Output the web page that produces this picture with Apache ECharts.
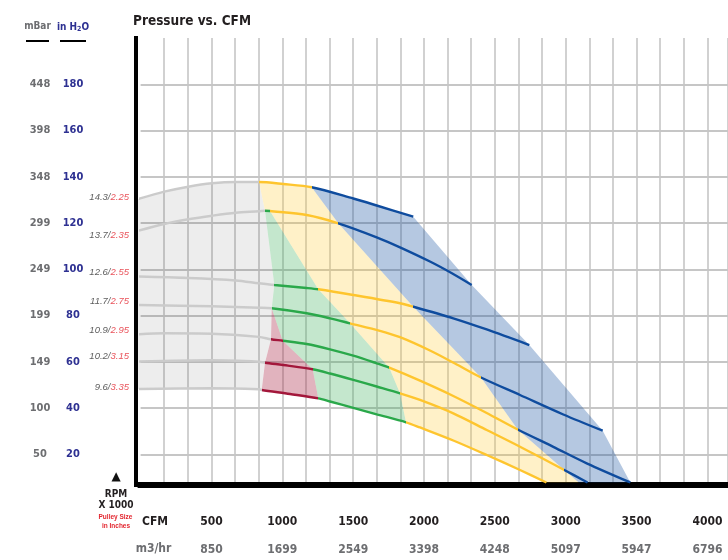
<!DOCTYPE html>
<html><head><meta charset="utf-8">
<script src="https://cdn.jsdelivr.net/npm/echarts@6/dist/echarts.min.js"></script>
<style>html,body{margin:0;padding:0;background:#fff}#c{width:728px;height:560px}</style>
</head><body><div id="c"></div>
<script>
// ---------- DATA (x = CFM, y = in H2O) ----------
const cfmTicks   = [500, 1000, 1500, 2000, 2500, 3000, 3500, 4000];
const m3hrTicks  = [850, 1699, 2549, 3398, 4248, 5097, 5947, 6796];
const inH2OTicks = [20, 40, 60, 80, 100, 120, 140, 160, 180];
const mbarTicks  = [50, 100, 149, 199, 249, 299, 348, 398, 448];
const rpmLabels    = ['14.3', '13.7', '12.6', '11.7', '10.9', '10.2', '9.6'];
const pulleyLabels = ['2.25', '2.35', '2.55', '2.75', '2.95', '3.15', '3.35'];

// fan curves, one per RPM
const curve143 = [[-22,130.25],[167,133.54],[337,135.7],[504,137.17],[671,137.73],[835.5,137.73],[1007,136.86],
                  [1207.4,135.44],[1501,130.59],[1666,127.57],[1924,122.72]];
const curve137 = [[-22,116.54],[167,119.57],[337,121.6],[504,123.16],[671,124.45],[835.5,125.06],[877.9,125.32],
                  [913.2,125.19],[1172,123.46],[1395.2,119.87],[1666,113.82],[1830.6,109.49],[2042,103.35],[2200,98.16],[2336.6,93.19]];
const curve126 = [[-22,96.86],[337,96.22],[671,95.14],[835.5,93.92],[943.5,93.19],[1172,91.89],[1254,91.33],
                  [1501,88.86],[1830.6,85.28],[1924.4,83.81],[2206.7,78.79],[2442.5,73.95],[2743,67.24]];
const curve117 = [[-22,84.54],[504,83.98],[835.5,83.37],[925.2,83.11],[1172,80.95],[1336.6,78.79],[1477.7,76.63],
                  [1689.4,73.38],[1830.6,70.62],[2042,64.86],[2218.7,59.24],[2402.2,53.19],[2677.4,45.62],[2983,37.19],[3261,30.18]];
const curve109 = [[-22,71.87],[167,72.3],[504,72.13],[835.5,70.75],[920.2,69.71],[1002.8,69.1],[1172,67.68],[1336.6,65.38],
                  [1501,62.62],[1666,59.33],[1755,57.43],[1971.7,51.81],[2206.7,45.19],[2442.5,37.84],[2661.2,30.7],
                  [2912.4,23.22],[3148,16.09],[3456,7.8]];
const curve102 = [[-22,60.11],[504,60.63],[835.5,60.02],[877.9,59.59],[1040,58.34],[1214.5,56.74],[1336.6,54.92],
                  [1501,52.19],[1666,49.3],[1830.6,46.36],[1971.7,43.5],[2206.7,37.71],[2442.5,30.49],[2677.4,23.26],
                  [2990,13.19],[3154,7.8]];
const curve96  = [[-22,48.22],[504,48.52],[835.5,48.09],[854.6,47.78],[1054,46.05],[1254,44.19],[1336.6,42.81],
                  [1501,40.09],[1666,37.28],[1873,33.82],[1971.7,31.57],[2206.7,25.95],[2442.5,19.68],[2677.4,13.19],[2864,7.8]];

// operating zones along each curve: [starting CFM, zone]
const zones143 = [[-1e9,'gray'],[835.5,'yellow'],[1207.4,'blue']];
const zones137 = [[-1e9,'gray'],[877.9,'green'],[913.2,'yellow'],[1395.2,'blue']];
const zones126 = [[-1e9,'gray'],[943.5,'green'],[1254,'yellow'],[1924.4,'blue']];
const zones117 = [[-1e9,'gray'],[925.2,'green'],[1477.7,'yellow'],[2402.2,'blue']];
const zones109 = [[-1e9,'gray'],[920.2,'red'],[1002.8,'green'],[1755,'yellow'],[2661.2,'blue']];
const zones102 = [[-1e9,'gray'],[877.9,'red'],[1214.5,'green'],[1830.6,'yellow'],[2990,'blue']];
const zones96  = [[-1e9,'gray'],[854.6,'red'],[1254,'green'],[1873,'yellow']];
const yellowBlueFloor = [3092, 7.8];

// ---------- STYLE ----------
const FONT = "'DejaVu Sans Condensed','DejaVu Sans',sans-serif";
const NARROW = "'Liberation Sans','DejaVu Sans Condensed',sans-serif";
const XMAX = (728 - 140.6) * 7.057;
const lineColors = {gray:'#cbcbcb', red:'#a3173b', green:'#2aa84a', yellow:'#fec52e', blue:'#0f4c9e'};
const fills = {
  gray:'rgba(0,0,0,0.07)', red:'rgba(163,23,59,0.33)', green:'rgba(42,168,74,0.28)',
  yellow:'rgba(255,200,44,0.26)', blue:'rgba(15,76,158,0.31)'
};
const labelDy = [-2, 4, -4, -4, -4, -5, -2];

const curves = [curve143, curve137, curve126, curve117, curve109, curve102, curve96];
const zones  = [zones143, zones137, zones126, zones117, zones109, zones102, zones96];
const rev = a => a.slice().reverse();
const seg = (ci, key) => {
  const z = zones[ci], k = z.findIndex(e => e[1] === key);
  const a = z[k][0], b = k + 1 < z.length ? z[k + 1][0] : Infinity;
  return curves[ci].filter(p => p[0] >= a && p[0] <= b);
};
const first = (ci, key) => seg(ci, key)[0];
const lastPt = ci => curves[ci][curves[ci].length - 1];

const regions = {
  gray: [...seg(0,'gray'), first(1,'green'), first(2,'green'), first(3,'green'), first(4,'red'), first(5,'red'), ...rev(seg(6,'gray'))],
  red: [first(3,'green'), first(4,'red'), first(5,'red'), ...seg(6,'red'), first(5,'green'), first(4,'green')],
  green: [...seg(1,'green'), first(2,'yellow'), first(3,'yellow'), first(4,'yellow'), first(5,'yellow'), ...rev(seg(6,'green')),
          first(5,'green'), first(4,'green'), first(3,'green'), first(2,'green')],
  yellow: [...seg(0,'yellow'), first(1,'blue'), first(2,'blue'), first(3,'blue'), first(4,'blue'), first(5,'blue'), yellowBlueFloor,
           ...rev(seg(6,'yellow')), first(5,'yellow'), first(4,'yellow'), first(3,'yellow'), first(2,'yellow'), first(1,'yellow'), first(1,'green')],
  blue: [...seg(0,'blue'), lastPt(1), lastPt(2), lastPt(3), lastPt(4), yellowBlueFloor,
         first(5,'blue'), first(4,'blue'), first(3,'blue'), first(2,'blue'), first(1,'blue')]
};

const series = [];
const visualMap = [];
curves.forEach((c, i) => {
  visualMap.push({
    type:'piecewise', show:false, seriesIndex:i, dimension:0,
    pieces: zones[i].map((z, k) => {
      const p = {color: lineColors[z[1]]};
      if (k > 0) p.gte = z[0];
      if (k + 1 < zones[i].length) p.lt = zones[i][k + 1][0];
      return p;
    })
  });
  series.push({
    type:'line', xAxisIndex:0, yAxisIndex:0, z:3, silent:true, clip:false,
    data:c, smooth:0.3, symbol:'none', showSymbol:false,
    lineStyle:{width:2.4}
  });
});
Object.keys(regions).forEach(k => {
  const pts = regions[k];
  series.push({
    type:'custom', xAxisIndex:0, yAxisIndex:0, z:1, silent:true, clip:false,
    data: pts, encode: {x:0, y:1},
    renderItem: (params, api) => {
      if (params.dataIndex !== 0) return null;
      return {type:'polygon', shape:{points: pts.map(p => api.coord(p))}, style:{fill: fills[k]}};
    }
  });
});
series.push({
  type:'scatter', xAxisIndex:0, yAxisIndex:0, z:4, silent:true, clip:false,
  symbolSize:1, itemStyle:{color:'rgba(0,0,0,0)'},
  data: curves.map((c, i) => ({value:c[0], label:{offset:[0, labelDy[i]]}})),
  label:{show:true, position:'left', distance:8,
    formatter: p => '{a|' + rpmLabels[p.dataIndex] + '/}{b|' + pulleyLabels[p.dataIndex] + '}',
    rich:{a:{color:'#333', fontStyle:'italic', fontSize:9.5, fontFamily:NARROW},
          b:{color:'#e3262f', fontStyle:'italic', fontSize:9.5, fontFamily:NARROW}}}
});

const hideLine = {show:false};
const option = {
  animation:false,
  textStyle:{fontFamily:FONT},
  visualMap,
  grid:[
    {left:140.6, right:0, top:38, height:462.5, outerBoundsMode:'none', containLabel:false},
    {left:140.6, right:0, top:38, height:447, outerBoundsMode:'none', containLabel:false}
  ],
  xAxis:[
    {gridIndex:0, type:'value', position:'bottom', min:0, max:XMAX, interval:500, axisLine:hideLine, axisTick:hideLine, splitLine:hideLine,
     axisLabel:{margin:15, fontSize:12, fontWeight:'bold', color:'#231f20', fontFamily:FONT, showMaxLabel:false,
       formatter:v => cfmTicks.indexOf(v) >= 0 ? String(v) : ''}},
    {gridIndex:0, type:'value', position:'bottom', min:0, max:XMAX, interval:500, offset:28, axisLine:hideLine, axisTick:hideLine, splitLine:hideLine,
     axisLabel:{margin:15, fontSize:12, fontWeight:'bold', color:'#6d6e71', fontFamily:FONT, showMaxLabel:false,
       formatter:v => { const i = cfmTicks.indexOf(v); return i >= 0 ? String(m3hrTicks[i]) : ''; }}},
    {gridIndex:1, type:'value', position:'bottom', min:0, max:XMAX, interval:500/3,
     axisLine:{show:true, onZero:false, lineStyle:{color:'#000', width:6, cap:'square'}},
     axisTick:hideLine, axisLabel:hideLine,
     splitLine:{show:true, showMinLine:false, lineStyle:{color:'#c6c6c6', width:1.6}}}
  ],
  yAxis:[
    {gridIndex:0, type:'value', min:0, max:200, interval:20, position:'left', offset:67.6,
     axisLine:hideLine, axisTick:hideLine,
     splitLine:{show:true, showMinLine:false, showMaxLine:false, lineStyle:{color:'#c6c6c6', width:2}},
     axisLabel:{margin:0, align:'center', padding:[0,0,12,0], fontSize:11, fontWeight:'bold', color:'#2e3192', fontFamily:FONT,
       formatter:v => inH2OTicks.indexOf(v) >= 0 ? String(v) : ''}},
    {gridIndex:0, type:'value', min:0, max:200, interval:20, position:'left', offset:100.6,
     axisLine:hideLine, axisTick:hideLine, splitLine:hideLine,
     axisLabel:{margin:0, align:'center', padding:[0,0,12,0], fontSize:11, fontWeight:'bold', color:'#6d6e71', fontFamily:FONT,
       formatter:v => { const i = inH2OTicks.indexOf(v); return i >= 0 ? String(mbarTicks[i]) : ''; }}},
    {gridIndex:1, type:'value', min:0, max:1, position:'left', offset:4.6,
     axisLine:{show:true, onZero:false, lineStyle:{color:'#000', width:4, cap:'square'}},
     axisTick:hideLine, axisLabel:hideLine, splitLine:hideLine}
  ],
  graphic:[
    {type:'text', x:133, y:21, style:{text:'Pressure vs. CFM', font:'bold 13.5px ' + FONT, fill:'#231f20', textAlign:'left', textVerticalAlign:'middle'}},
    {type:'text', x:37.5, y:26, style:{text:'mBar', font:'bold 10px ' + FONT, fill:'#6d6e71', textAlign:'center', textVerticalAlign:'middle'}},
    {type:'text', x:73, y:26, style:{text:'{a|in H}{s|2}{a|O}', fill:'#2e3192', textAlign:'center', textVerticalAlign:'middle',
       rich:{a:{font:'bold 10px ' + FONT, fill:'#2e3192', color:'#2e3192', verticalAlign:'bottom', lineHeight:13},
             s:{font:'bold 7px ' + FONT, fill:'#2e3192', color:'#2e3192', verticalAlign:'bottom', lineHeight:8}}}},
    {type:'line', shape:{x1:26, y1:41, x2:49, y2:41}, style:{stroke:'#000', lineWidth:2}},
    {type:'line', shape:{x1:60, y1:41, x2:86, y2:41}, style:{stroke:'#000', lineWidth:2}},
    {type:'text', x:116, y:477, style:{text:'\u25B2', font:'12px DejaVu Sans', fill:'#111', textAlign:'center', textVerticalAlign:'middle'}},
    {type:'text', x:116, y:494, style:{text:'RPM', font:'bold 10px ' + FONT, fill:'#231f20', textAlign:'center', textVerticalAlign:'middle'}},
    {type:'text', x:116, y:505.5, style:{text:'X 1000', font:'bold 10px ' + FONT, fill:'#231f20', textAlign:'center', textVerticalAlign:'middle'}},
    {type:'text', x:115.5, y:517.5, style:{text:'Pulley Size', font:'bold 6.5px ' + NARROW, fill:'#e3262f', textAlign:'center', textVerticalAlign:'middle'}},
    {type:'text', x:116, y:526.5, style:{text:'in Inches', font:'bold 6.5px ' + NARROW, fill:'#e3262f', textAlign:'center', textVerticalAlign:'middle'}},
    {type:'text', x:155, y:521.5, style:{text:'CFM', font:'bold 12px ' + FONT, fill:'#231f20', textAlign:'center', textVerticalAlign:'middle'}},
    {type:'text', x:153.5, y:549, style:{text:'m3/hr', font:'bold 12px ' + FONT, fill:'#6d6e71', textAlign:'center', textVerticalAlign:'middle'}}
  ],
  series
};
const chart = echarts.init(document.getElementById('c'), null, {renderer:'canvas'});
chart.setOption(option);
</script></body></html>
